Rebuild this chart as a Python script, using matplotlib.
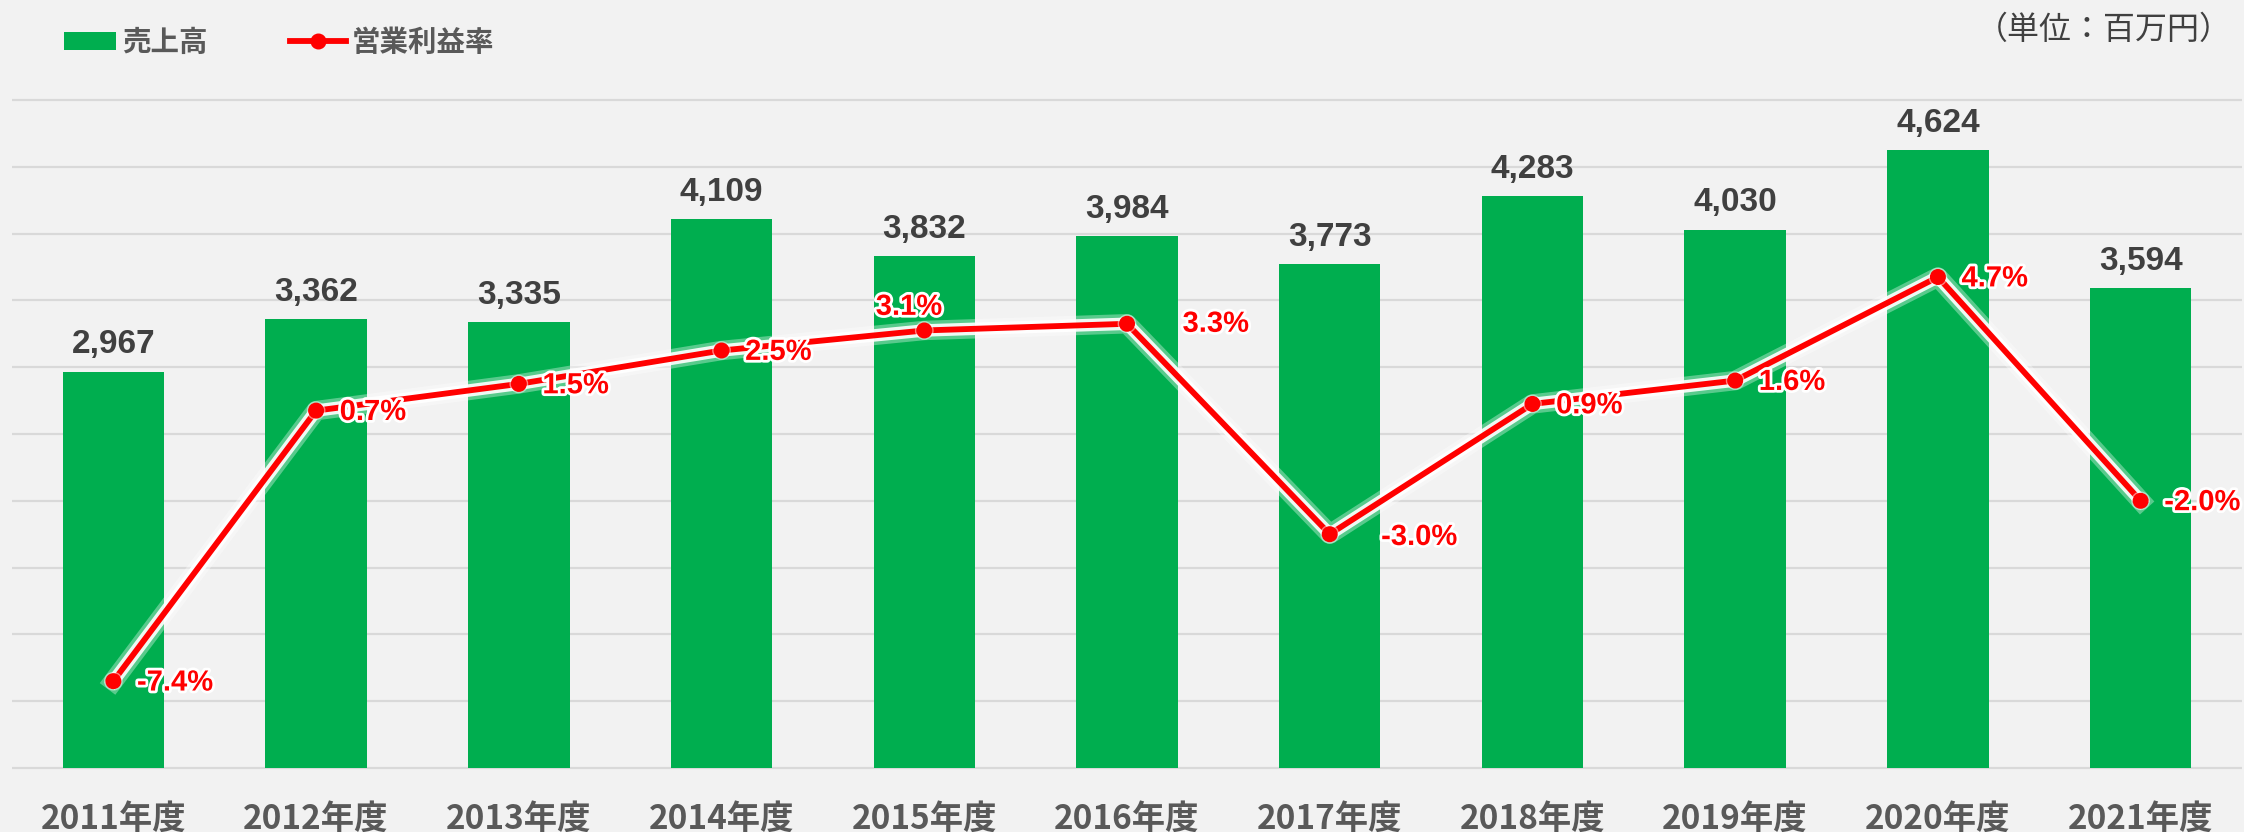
import matplotlib
matplotlib.use("Agg")
import matplotlib.pyplot as plt
import matplotlib.patches as mpatches
import matplotlib.patheffects as pe
from matplotlib.lines import Line2D
from matplotlib.legend_handler import HandlerPatch
import numpy as np

plt.rcParams['font.family'] = ['Noto Sans CJK JP', 'DejaVu Sans']

# data
years = ['2011年度', '2012年度', '2013年度', '2014年度', '2015年度', '2016年度',
         '2017年度', '2018年度', '2019年度', '2020年度', '2021年度']
sales = [2967, 3362, 3335, 4109, 3832, 3984, 3773, 4283, 4030, 4624, 3594]
margin = [-7.4, 0.7, 1.5, 2.5, 3.1, 3.3, -3.0, 0.9, 1.6, 4.7, -2.0]

GREEN = '#00AE4F'
RED = '#FF0000'
BG = '#F2F2F2'
GRID = '#D9D9D9'

# where each % label sits relative to its point (points), style only
lbl_off = [(17, -1)] * len(margin)
lbl_off[4] = (-11, 17)
lbl_off[5] = (40, 0)
lbl_off[6] = (37, -2)

fig = plt.figure(figsize=(22.44, 8.32), dpi=100, facecolor=BG)
ax = fig.add_axes([12 / 2244, 1 - 768 / 832, 2230 / 2244, 668 / 832])
ax.set_facecolor('none')

x = np.arange(len(years))
bars = ax.bar(x, sales, width=0.5, color=GREEN, zorder=2)
ax.bar_label(bars, labels=[f'{v:,}' for v in sales], padding=8,
             fontsize=24, fontweight='bold', color='#404040',
             family='Liberation Sans')

ax2 = ax.twinx()

ax.set_xlim(-0.5, len(years) - 0.5)
ax.set_ylim(0, 5000)
yticks = np.arange(0, 5001, 500)
for t in yticks:
    ax.axhline(t, color=GRID, linewidth=1.6, solid_capstyle='butt',
               clip_on=False, zorder=0)
ax.set_yticks([])
ax.set_xticks(x)
ax.set_xticklabels(years, fontsize=24, color='#595959', fontweight='bold')
ax.tick_params(axis='x', length=0, pad=25)
for s in ax.spines.values():
    s.set_visible(False)

ax2.set_ylim(-10, 10)
ax2.axis('off')
glow = [pe.Stroke(linewidth=14, foreground='white', alpha=0.35),
        pe.Stroke(linewidth=9, foreground='white', alpha=0.9),
        pe.Normal()]
ax2.plot(x, margin, color=RED, linewidth=4.2, path_effects=glow, zorder=3)
ax2.plot(x, margin, linestyle='none', marker='o', markersize=10.5, color=RED,
         path_effects=[pe.Stroke(linewidth=3, foreground='white', alpha=0.5),
                       pe.Normal()], zorder=3)
for i, v in enumerate(margin):
    dx, dy = lbl_off[i]
    ax2.annotate(f'{v:.1f}%', (i, v), xytext=(dx, dy), textcoords='offset points',
                 ha='center' if dx < 0 else 'left', va='center',
                 fontsize=21, fontweight='bold', color=RED, family='Liberation Sans',
                 path_effects=[pe.withStroke(linewidth=4, foreground='white')],
                 zorder=4)


class SmallRect(HandlerPatch):
    def create_artists(self, legend, orig_handle, xdescent, ydescent, width,
                       height, fontsize, trans):
        w = width * 0.93
        r = mpatches.Rectangle((width - w - xdescent, -ydescent),
                               w, height, facecolor=GREEN, transform=trans)
        return [r]


h_bar = mpatches.Patch(color=GREEN, label='売上高')
h_line = Line2D([], [], color=RED, linewidth=4.2, marker='o', markersize=10.5,
                label='営業利益率')
fig.legend(handles=[h_bar, h_line], loc='center left',
           bbox_to_anchor=(60 / 2244, 1 - 43 / 832), ncol=2, frameon=False,
           prop={'size': 20.5, 'weight': 'bold'}, labelcolor='#595959',
           handlelength=1.97, handleheight=0.6,
           handletextpad=0.2, columnspacing=2.9, borderpad=0, borderaxespad=0,
           handler_map={mpatches.Patch: SmallRect()})

fig.text(2232 / 2244, 1 - 30 / 832, '（単位：百万円）', ha='right', va='center',
         fontsize=23, color='#404040')

fig.savefig('out.png', dpi=100, facecolor=BG)
